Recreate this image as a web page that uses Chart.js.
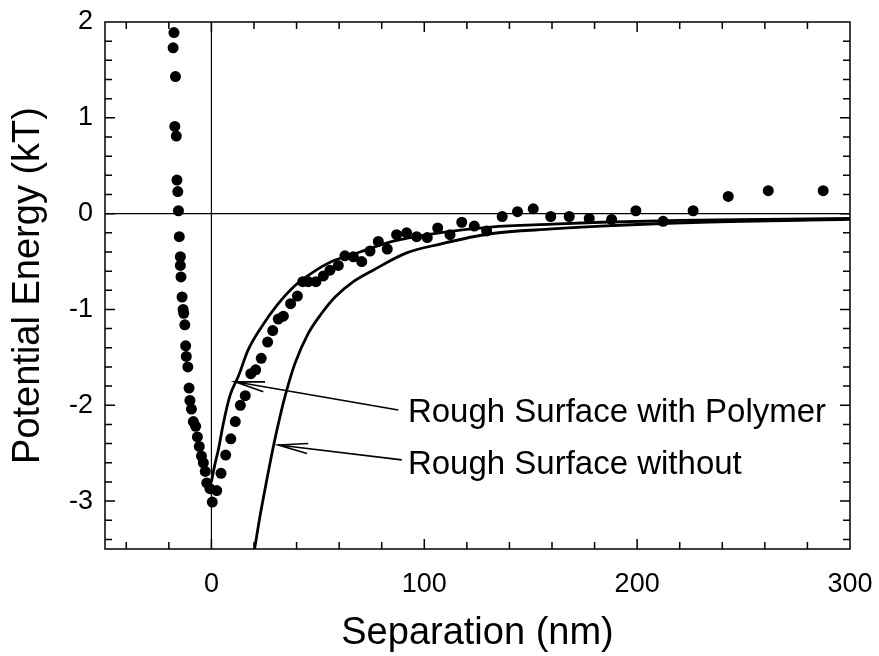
<!DOCTYPE html>
<html>
<head>
<meta charset="utf-8">
<script src="https://cdn.jsdelivr.net/npm/chart.js@4.4.0/dist/chart.umd.min.js"></script>
<style>
  html, body { margin: 0; padding: 0; background: #fff; }
  #wrap { width: 879px; height: 656px; }
</style>
</head>
<body>
<div id="wrap"><canvas id="grafico"></canvas></div>
<script>
// Measured points (separation nm, energy kT)
const sepX = [
  -17.6, -18.0, -16.9, -17.2, -16.5, -16.2, -15.8, -15.5, -15.1, -14.6,
  -14.6, -14.3, -13.8, -13.3, -13.0, -12.5, -12.1, -11.8, -11.1, -10.5,
  -10.1, -9.4, -8.5, -7.4, -6.6, -5.7, -4.7, -3.8, -2.9, -2.2,
  -0.7, 0.4, 2.5, 4.5, 6.7, 9.1, 11.2, 13.6, 15.9, 18.5,
  20.8, 23.4, 26.4, 28.8, 31.4, 33.8, 37.2, 40.4, 42.9, 45.5,
  49.1, 52.6, 55.7, 59.6, 62.7, 66.7, 70.6, 74.5, 78.4, 82.6,
  87.0, 91.7, 96.4, 101.4, 106.3, 112.1, 117.6, 123.5, 129.3, 136.6,
  143.8, 151.2, 159.4, 168.1, 177.5, 188.0, 199.4, 212.2, 226.3, 242.8,
  261.6, 287.4
];
const energiaY = [
  1.89, 1.73, 1.43, 0.91, 0.81, 0.35, 0.23, 0.03, -0.24, -0.45,
  -0.54, -0.66, -0.87, -1.00, -1.04, -1.16, -1.38, -1.49, -1.60, -1.82,
  -1.95, -2.04, -2.17, -2.22, -2.33, -2.43, -2.53, -2.60, -2.69, -2.81,
  -2.87, -3.01, -2.89, -2.71, -2.52, -2.35, -2.17, -2.00, -1.90, -1.67,
  -1.63, -1.51, -1.34, -1.22, -1.10, -1.07, -0.94, -0.86, -0.71, -0.71,
  -0.71, -0.65, -0.59, -0.54, -0.44, -0.45, -0.50, -0.39, -0.29, -0.37,
  -0.22, -0.20, -0.24, -0.25, -0.15, -0.22, -0.09, -0.13, -0.18, -0.03,
  0.02, 0.05, -0.03, -0.03, -0.05, -0.06, 0.03, -0.08, 0.03, 0.18,
  0.24, 0.24
];

// Curva "Rough Surface with Polymer"
const curvaComX = [0, 1.5, 3.2, 5.6, 8.7, 12.6, 17.3, 23.6, 31.4, 39.3, 47.1, 56.5, 69.8, 85, 107, 131, 160, 183, 220, 260, 300];
const curvaComY = [-2.80, -2.63, -2.47, -2.19, -1.90, -1.70, -1.42, -1.18, -0.94, -0.75, -0.62, -0.50, -0.40, -0.29, -0.20, -0.14, -0.11, -0.09, -0.07, -0.06, -0.05];

// Curva "Rough Surface without"
const curvaSemX = [20.2, 22.8, 26.0, 29.1, 32.2, 35.4, 39.3, 45.5, 51.8, 58.1, 66.7, 76, 91.7, 107, 131, 160, 183, 230, 300];
const curvaSemY = [-3.51, -3.16, -2.78, -2.43, -2.12, -1.84, -1.56, -1.25, -1.04, -0.87, -0.71, -0.59, -0.41, -0.32, -0.21, -0.16, -0.13, -0.09, -0.06];

const xTicks = [0, 100, 200, 300];
const yTicks = [-3, -2, -1, 0, 1, 2];

// Anotações (em unidades dos dados)
const rotulos = ['Rough Surface with Polymer', 'Rough Surface without'];
const rotuloPos = [[92.3, -2.08], [92.3, -2.62]];
const setaPonta = [[11.1, -1.755], [31.4, -2.415]];
const setaCauda = [[87.8, -2.05], [89.4, -2.57]];

const fonte = "'Liberation Sans', Arial, sans-serif";

function pares(xs, ys) {
  return xs.map((x, i) => ({ x: x, y: ys[i] }));
}

// Moldura, ticks internos, linhas do zero e setas
const extras = {
  id: 'extras',
  beforeDatasetsDraw(chart) {
    const { ctx, chartArea: a, scales: { x, y } } = chart;
    ctx.save();
    ctx.strokeStyle = '#000';
    ctx.lineWidth = 1.2;
    ctx.beginPath();
    const x0 = x.getPixelForValue(0), y0 = y.getPixelForValue(0);
    ctx.moveTo(x0, a.top); ctx.lineTo(x0, a.bottom);
    ctx.moveTo(a.left, y0); ctx.lineTo(a.right, y0);
    ctx.stroke();
    ctx.restore();
  },
  afterDatasetsDraw(chart) {
    const { ctx, chartArea: a, scales: { x, y } } = chart;
    ctx.save();
    ctx.strokeStyle = '#000';
    ctx.lineWidth = 1.5;
    ctx.strokeRect(a.left, a.top, a.right - a.left, a.bottom - a.top);

    ctx.beginPath();
    for (let v = -40; v < 300; v += 20) {
      const px = x.getPixelForValue(v);
      const len = xTicks.includes(v) ? 10 : 7;
      ctx.moveTo(px, a.bottom); ctx.lineTo(px, a.bottom - len);
      ctx.moveTo(px, a.top); ctx.lineTo(px, a.top + len);
    }
    for (let k = -17; k < 10; k++) {
      const v = k / 5;
      const py = y.getPixelForValue(v);
      const len = k % 5 === 0 ? 10 : 7;
      ctx.moveTo(a.left, py); ctx.lineTo(a.left + len, py);
      ctx.moveTo(a.right, py); ctx.lineTo(a.right - len, py);
    }
    ctx.stroke();

    // setas
    ctx.lineWidth = 1.6;
    setaPonta.forEach((p, i) => {
      const tx = x.getPixelForValue(p[0]), ty = y.getPixelForValue(p[1]);
      const cx = x.getPixelForValue(setaCauda[i][0]), cy = y.getPixelForValue(setaCauda[i][1]);
      const ang = Math.atan2(cy - ty, cx - tx);
      ctx.beginPath();
      ctx.moveTo(cx, cy); ctx.lineTo(tx, ty);
      ctx.moveTo(tx + 30 * Math.cos(ang - 0.17), ty + 30 * Math.sin(ang - 0.17));
      ctx.lineTo(tx, ty);
      ctx.lineTo(tx + 30 * Math.cos(ang + 0.17), ty + 30 * Math.sin(ang + 0.17));
      ctx.stroke();
    });

    ctx.fillStyle = '#000';
    ctx.font = '33px ' + fonte;
    ctx.textAlign = 'left';
    ctx.textBaseline = 'middle';
    rotulos.forEach((t, i) => {
      ctx.fillText(t, x.getPixelForValue(rotuloPos[i][0]), y.getPixelForValue(rotuloPos[i][1]));
    });
    ctx.restore();
  }
};

new Chart(document.getElementById('grafico'), {
  type: 'scatter',
  data: {
    datasets: [
      {
        label: 'Medido',
        data: pares(sepX, energiaY),
        pointRadius: 5.5,
        pointBackgroundColor: '#000',
        pointBorderWidth: 0,
        showLine: false
      },
      {
        label: 'Rough Surface with Polymer',
        data: pares(curvaComX, curvaComY),
        showLine: true,
        pointRadius: 0,
        borderColor: '#000',
        borderWidth: 2.8,
        cubicInterpolationMode: 'monotone'
      },
      {
        label: 'Rough Surface without',
        data: pares(curvaSemX, curvaSemY),
        showLine: true,
        pointRadius: 0,
        borderColor: '#000',
        borderWidth: 2.8,
        cubicInterpolationMode: 'monotone'
      }
    ]
  },
  options: {
    responsive: true,
    maintainAspectRatio: false,
    animation: false,
    layout: { padding: { top: 22, right: 29, left: 0, bottom: 0 } },
    plugins: {
      legend: { display: false },
      tooltip: { enabled: false }
    },
    scales: {
      x: {
        type: 'linear',
        min: -50,
        max: 300,
        afterBuildTicks: s => { s.ticks = xTicks.map(v => ({ value: v })); },
        afterFit: s => { s.height = 107; s.paddingLeft = 0; s.paddingRight = 0; },
        grid: { display: false, drawTicks: false },
        border: { display: false },
        ticks: { color: '#000', padding: 19, maxRotation: 0, font: { family: fonte, size: 27 } },
        title: {
          display: true,
          text: 'Separation (nm)',
          color: '#000',
          padding: { top: 0, bottom: 0 },
          font: { family: fonte, size: 38 }
        }
      },
      y: {
        type: 'linear',
        min: -3.5,
        max: 2,
        afterBuildTicks: s => { s.ticks = yTicks.map(v => ({ value: v })); },
        afterFit: s => { s.width = 105; s.paddingTop = 0; s.paddingBottom = 0; },
        grid: { display: false, drawTicks: false },
        border: { display: false },
        ticks: { color: '#000', padding: 12, font: { family: fonte, size: 27 } },
        title: {
          display: true,
          text: 'Potential Energy (kT)',
          color: '#000',
          padding: { top: 6, bottom: 0 },
          font: { family: fonte, size: 38 }
        }
      }
    }
  },
  plugins: [extras]
});
</script>
</body>
</html>
